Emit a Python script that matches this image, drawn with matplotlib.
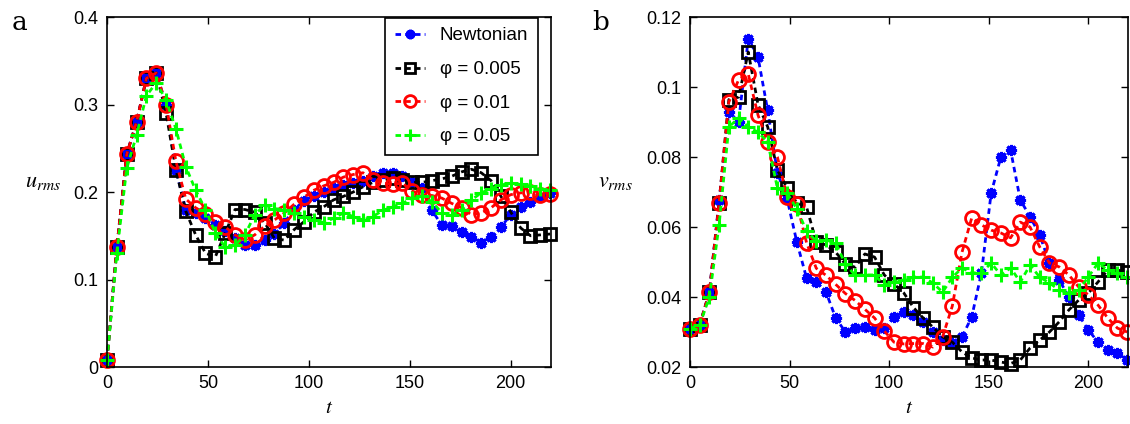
import numpy as np
import matplotlib
matplotlib.use("Agg")
import matplotlib.pyplot as plt

plt.rcParams['font.family'] = ['Liberation Sans', 'DejaVu Sans']
plt.rcParams['mathtext.fontset'] = 'stix'

# time samples (46 outputs, roughly every 4.9 time units)
t = np.arange(46) * 4.88

# panel a: u_rms
u_newt = [0.008, 0.137, 0.243, 0.28, 0.33, 0.336, 0.30, 0.225, 0.18, 0.176,
          0.17, 0.162, 0.155, 0.147, 0.14, 0.14, 0.145, 0.152, 0.165, 0.18,
          0.19, 0.196, 0.2, 0.205, 0.208, 0.21, 0.213, 0.218, 0.222, 0.222,
          0.218, 0.212, 0.205, 0.179, 0.162, 0.161, 0.154, 0.149, 0.142, 0.149,
          0.16, 0.174, 0.183, 0.189, 0.194, 0.199]
u_005 = [0.008, 0.137, 0.243, 0.28, 0.33, 0.336, 0.29, 0.225, 0.178, 0.151,
         0.13, 0.126, 0.153, 0.18, 0.18, 0.177, 0.165, 0.147, 0.145, 0.157,
         0.166, 0.177, 0.183, 0.191, 0.195, 0.2, 0.206, 0.211, 0.214, 0.216,
         0.214, 0.211, 0.211, 0.213, 0.215, 0.218, 0.223, 0.226, 0.222, 0.213,
         0.195, 0.177, 0.159, 0.15, 0.151, 0.152]
u_01 = [0.008, 0.137, 0.243, 0.28, 0.33, 0.336, 0.30, 0.235, 0.192, 0.182,
        0.175, 0.166, 0.16, 0.151, 0.145, 0.151, 0.161, 0.168, 0.176, 0.186,
        0.194, 0.202, 0.207, 0.211, 0.217, 0.22, 0.222, 0.214, 0.21, 0.209,
        0.21, 0.201, 0.197, 0.196, 0.193, 0.187, 0.182, 0.174, 0.176, 0.182,
        0.191, 0.197, 0.199, 0.2, 0.197, 0.198]
u_05 = [0.008, 0.13, 0.227, 0.265, 0.31, 0.325, 0.305, 0.272, 0.229, 0.202,
        0.18, 0.153, 0.137, 0.139, 0.151, 0.174, 0.185, 0.181, 0.18, 0.176,
        0.172, 0.168, 0.165, 0.17, 0.176, 0.172, 0.168, 0.172, 0.179, 0.183,
        0.187, 0.193, 0.195, 0.189, 0.176, 0.174, 0.179, 0.191, 0.199, 0.204,
        0.208, 0.21, 0.209, 0.207, 0.204, 0.202]

# panel b: v_rms
v_newt = [0.031, 0.032, 0.0414, 0.0676, 0.093, 0.09, 0.1138, 0.1086, 0.0933, 0.0755,
          0.068, 0.0557, 0.0454, 0.0443, 0.0414, 0.034, 0.03, 0.0311, 0.0314, 0.0306,
          0.0311, 0.0343, 0.0357, 0.0349, 0.0329, 0.03, 0.0277, 0.0269, 0.0286, 0.0343,
          0.0469, 0.0697, 0.08, 0.082, 0.0677, 0.063, 0.0577, 0.0497, 0.0449, 0.04,
          0.0349, 0.0306, 0.0271, 0.0249, 0.024, 0.022]
v_005 = [0.031, 0.032, 0.0414, 0.067, 0.0964, 0.0971, 0.11, 0.095, 0.0886, 0.0763,
         0.0711, 0.0669, 0.0657, 0.0557, 0.0549, 0.0528, 0.0494, 0.0485, 0.0523, 0.0514,
         0.0463, 0.0437, 0.0412, 0.037, 0.034, 0.0314, 0.0286, 0.0271, 0.0243, 0.0226,
         0.022, 0.022, 0.0214, 0.021, 0.022, 0.0254, 0.0277, 0.03, 0.0329, 0.0363,
         0.0391, 0.0411, 0.0443, 0.0477, 0.0477, 0.0471]
v_01 = [0.031, 0.032, 0.0414, 0.0669, 0.0957, 0.102, 0.1037, 0.092, 0.0843, 0.08,
        0.0686, 0.0667, 0.0555, 0.0482, 0.0462, 0.0436, 0.041, 0.039, 0.0365, 0.034,
        0.0303, 0.0271, 0.0266, 0.0267, 0.0267, 0.0257, 0.0286, 0.0374, 0.0528, 0.0626,
        0.0606, 0.0591, 0.0583, 0.0569, 0.0614, 0.06, 0.0543, 0.0497, 0.0486, 0.0463,
        0.0429, 0.0406, 0.0377, 0.034, 0.0311, 0.03]
v_05 = [0.031, 0.032, 0.040, 0.0607, 0.0886, 0.0911, 0.0886, 0.0871, 0.0843, 0.0711,
        0.0697, 0.0652, 0.0588, 0.056, 0.0563, 0.0554, 0.0494, 0.0462, 0.0463, 0.0463,
        0.0434, 0.0444, 0.0449, 0.0457, 0.0457, 0.044, 0.0414, 0.0456, 0.0483, 0.0469,
        0.0469, 0.0497, 0.0463, 0.0483, 0.0443, 0.0491, 0.0457, 0.044, 0.042, 0.0411,
        0.042, 0.0457, 0.0497, 0.0477, 0.0469, 0.0457]

labels = ['Newtonian', 'φ = 0.005', 'φ = 0.01', 'φ = 0.05']
styles = [dict(color='#0000ff', marker=(8, 2, 0), ms=8, mew=2.2),
          dict(color='black', marker='s', ms=8, mew=2, mfc='none'),
          dict(color='#ff0000', marker='o', ms=10, mew=2, mfc='none'),
          dict(color='#00ff00', marker='+', ms=10, mew=2.2)]

fig = plt.figure(figsize=(11.3, 4.24), dpi=100)
ax1 = fig.add_axes([0.0947, 0.1344, 0.3929, 0.8255])
ax2 = fig.add_axes([0.6106, 0.1344, 0.3876, 0.8255])

for y, lab, st in zip([u_newt, u_005, u_01, u_05], labels, styles):
    ax1.plot(t, y, ls='--', lw=2, dashes=(2, 1.5), label=lab, clip_on=False, **st)
for y, st in zip([v_newt, v_005, v_01, v_05], styles):
    ax2.plot(t, y, ls='--', lw=2, dashes=(2, 1.5), clip_on=False, **st)

ax1.set_xlim(0, 220)
ax1.set_ylim(0, 0.4)
ax1.set_yticks([0, 0.1, 0.2, 0.3, 0.4])
ax1.set_yticklabels(['0', '0.1', '0.2', '0.3', '0.4'])
ax2.set_xlim(0, 220)
ax2.set_ylim(0.02, 0.12)
ax2.set_yticks([0.02, 0.04, 0.06, 0.08, 0.1, 0.12])
ax2.set_yticklabels(['0.02', '0.04', '0.06', '0.08', '0.1', '0.12'])

for ax in (ax1, ax2):
    ax.set_xticks([0, 50, 100, 150, 200])
    ax.tick_params(direction='in', top=True, right=True, length=5, width=1,
                   labelsize=13, pad=6)
    for s in ax.spines.values():
        s.set_linewidth(1.2)
    ax.set_xlabel('$t$', fontsize=15, labelpad=4)

ax1.set_ylabel('$u_{rms}$', fontsize=16, rotation=0, labelpad=22)
ax2.set_ylabel('$v_{rms}$', fontsize=16, rotation=0, labelpad=22)

leg = ax1.legend(loc='upper right', bbox_to_anchor=(0.972, 1.0), fontsize=13.5,
                 fancybox=False, framealpha=1, edgecolor='black',
                 handlelength=1.6, handletextpad=0.8, borderaxespad=0.05,
                 labelspacing=0.88, borderpad=0.5, markerscale=0.85)
leg.get_frame().set_linewidth(1.2)

fig.text(0.010, 0.948, 'a', fontsize=19, family='DejaVu Serif', va='center')
fig.text(0.524, 0.948, 'b', fontsize=19, family='DejaVu Serif', va='center')

fig.savefig('out.png', dpi=100)
